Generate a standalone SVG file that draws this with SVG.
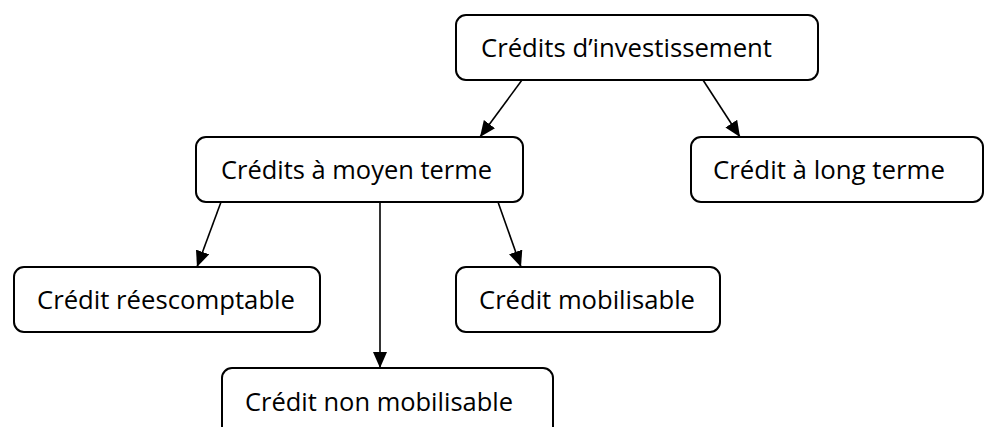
<svg xmlns="http://www.w3.org/2000/svg" width="984" height="427" viewBox="0 0 984 427">
<defs>
<marker id="ah" markerWidth="16" markerHeight="14" refX="16" refY="7" orient="auto" markerUnits="userSpaceOnUse">
<path d="M0,0 L16,7 L0,14 Z" fill="#000"/>
</marker>
<style>
.box{fill:#fff;stroke:#000;stroke-width:2}
.lbl{font-family:"Open Sans","Liberation Sans",sans-serif;font-size:25px;fill:#000}
.cn{stroke:#000;stroke-width:1.6;fill:none;marker-end:url(#ah)}
</style>
</defs>
<rect width="984" height="427" fill="#fff"/>
<g id="n1"><rect class="box" x="456" y="15" width="362" height="65" rx="10"/><text class="lbl" x="481" y="57" textLength="291" lengthAdjust="spacingAndGlyphs">Crédits d’investissement</text></g>
<g id="n2"><rect class="box" x="196" y="137" width="327" height="65" rx="10"/><text class="lbl" x="221" y="179" textLength="271" lengthAdjust="spacingAndGlyphs">Crédits à moyen terme</text></g>
<g id="n3"><rect class="box" x="691" y="137" width="292" height="65" rx="10"/><text class="lbl" x="713" y="179" textLength="232" lengthAdjust="spacingAndGlyphs">Crédit à long terme</text></g>
<g id="n4"><rect class="box" x="14" y="267" width="306" height="65" rx="10"/><text class="lbl" x="37" y="309" textLength="258" lengthAdjust="spacingAndGlyphs">Crédit réescomptable</text></g>
<g id="n5"><rect class="box" x="456" y="267" width="264" height="65" rx="10"/><text class="lbl" x="479" y="309" textLength="216" lengthAdjust="spacingAndGlyphs">Crédit mobilisable</text></g>
<g id="n6"><rect class="box" x="222" y="368" width="331" height="75" rx="10"/><text class="lbl" x="245" y="411" textLength="268" lengthAdjust="spacingAndGlyphs">Crédit non mobilisable</text></g>
<g id="connectors">
<line class="cn" x1="522" y1="80" x2="480" y2="137"/>
<line class="cn" x1="703" y1="80" x2="740" y2="137"/>
<line class="cn" x1="221" y1="202" x2="197" y2="267"/>
<line class="cn" x1="380" y1="202" x2="380" y2="368"/>
<line class="cn" x1="498" y1="202" x2="521" y2="267"/>
</g>
</svg>
